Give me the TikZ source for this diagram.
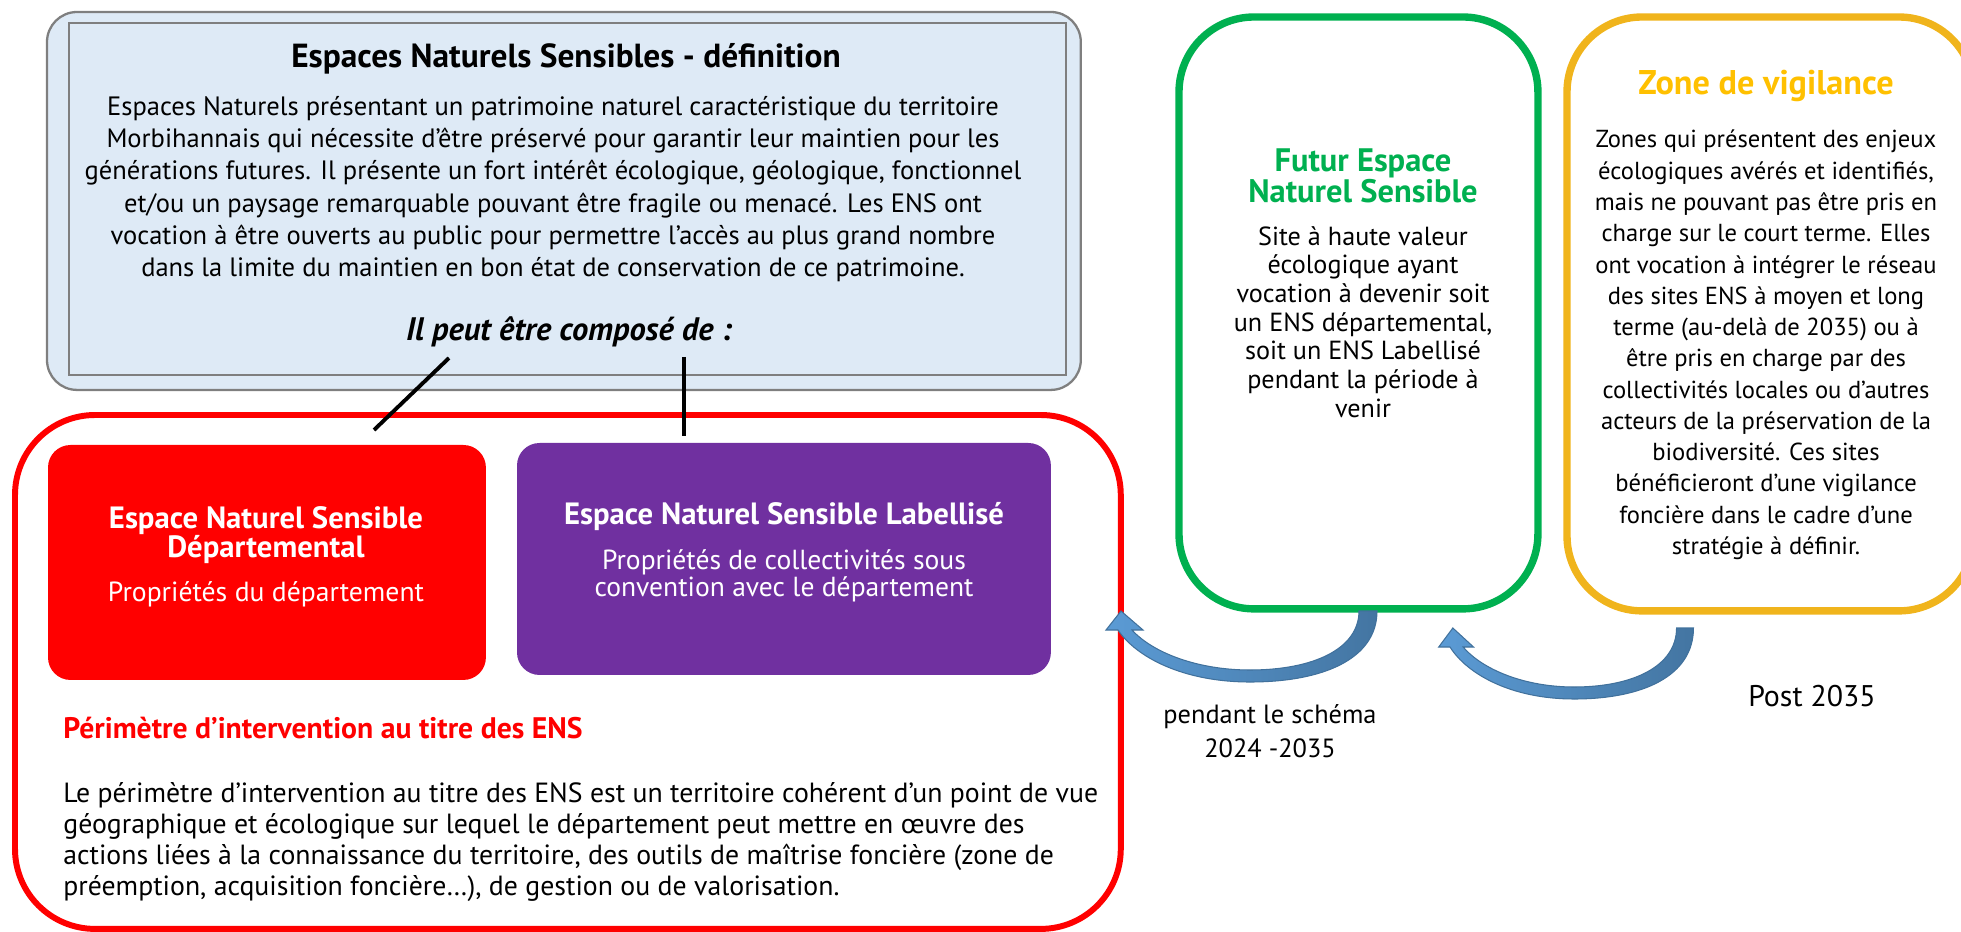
\documentclass[tikz,border=0pt]{standalone}
\usepackage{fontspec}
\setmainfont{PT Sans}
\usetikzlibrary{positioning}

\definecolor{bleuclair}{HTML}{DEEAF6}
\definecolor{grisbord}{HTML}{7F7F7F}
\definecolor{rouge}{HTML}{FF0000}
\definecolor{violet}{HTML}{7030A0}
\definecolor{vert}{HTML}{00B050}
\definecolor{jaune}{HTML}{F0B41C}
\definecolor{jaunetitre}{HTML}{FFC000}
\definecolor{bleuclf}{HTML}{5B9BD5}
\definecolor{bleufonce}{HTML}{41719C}

\tikzset{
  boite/.style={anchor=north west, inner sep=0pt, outer sep=0pt},
  txt/.style={inner sep=0pt, align=center, font=\fontsize{#1}{18.4}\selectfont},
  flechebleue/.pic={
    \draw[bleufonce, line width=0.6pt, left color=bleuclf, right color=bleufonce!90!bleuclf]
      (9,0) .. controls (9,48) and (-45,71) .. (-118,71)
      .. controls (-185,71) and (-232,46) .. (-250,19)
      -- (-262,19) -- (-247,0) -- (-225,19) -- (-236,19)
      .. controls (-215,42) and (-170,59) .. (-118,59)
      .. controls (-55,59) and (-9,38) .. (-9,0) -- cycle;
  }
}

\begin{document}
\begin{tikzpicture}[x=0.02cm, y=-0.02cm]
  \useasboundingbox (0,0) rectangle (1961,932);
  \clip (0,0) rectangle (1961,932);

  % Boites
  \node[boite, draw=grisbord, fill=bleuclair, line width=1.3pt, rounded corners=0.6cm,
        minimum width=20.68cm, minimum height=7.56cm] (defbox) at (47,12) {};
  \node[boite, draw=grisbord, fill=bleuclair, line width=0.9pt,
        minimum width=19.94cm, minimum height=7.04cm] (definner) at (69,23) {};
  \node[boite, draw=rouge, line width=3.4pt, rounded corners=1.6cm,
        minimum width=22.12cm, minimum height=10.28cm] (perimetre) at (15,415) {};
  \node[boite, fill=rouge, rounded corners=0.45cm,
        minimum width=8.76cm, minimum height=4.7cm] (ensdep) at (48,445) {};
  \node[boite, fill=violet, rounded corners=0.45cm,
        minimum width=10.68cm, minimum height=4.64cm] (enslab) at (517,443) {};
  \node[boite, draw=vert, line width=4.2pt, rounded corners=1.5cm,
        minimum width=7.18cm, minimum height=11.84cm] (futur) at (1179,17) {};
  \node[boite, draw=jaune, line width=4.2pt, rounded corners=1.5cm,
        minimum width=8.14cm, minimum height=11.88cm] (zone) at (1567,17) {};

  % Textes
  \node[txt=19, font=\bfseries\fontsize{19}{20}\selectfont] (deftitre) at (566,59)
    {Espaces Naturels Sensibles - définition};
  \node[txt=15.1] (deftexte) at (553,189)
    {Espaces Naturels présentant un patrimoine naturel caractéristique du territoire\\
     Morbihannais qui nécessite d’être préservé pour garantir leur maintien pour les\\
     générations futures. Il présente un fort intérêt écologique, géologique, fonctionnel\\
     et/ou un paysage remarquable pouvant être fragile ou menacé. Les ENS ont\\
     vocation à être ouverts au public pour permettre l’accès au plus grand nombre\\
     dans la limite du maintien en bon état de conservation de ce patrimoine.};
  \node[txt=18, font=\bfseries\itshape\fontsize{18.5}{20}\selectfont] (compose) at (569,332)
    {Il peut être composé de :};

  \node[txt=17.5, text=white, font=\bfseries\fontsize{17.5}{16.9}\selectfont] (ensdeptitre) at (266,535)
    {Espace Naturel Sensible\\ Départemental};
  \node[txt=15.75, text=white] (ensdeptexte) at (266,594) {Propriétés du département};
  \node[txt=17.5, text=white, font=\bfseries\fontsize{17.5}{18}\selectfont] (enslabtitre) at (784,517)
    {Espace Naturel Sensible Labellisé};
  \node[txt=15.7, text=white, font=\fontsize{15.7}{15.3}\selectfont] (enslabtexte) at (784,576)
    {Propriétés de collectivités sous\\ convention avec le département};

  \node[txt=16.9, text=rouge, font=\bfseries\fontsize{16.9}{18}\selectfont, anchor=west] (perimtitre) at (63,728)
    {Périmètre d’intervention au titre des ENS};
  \node[txt=15.8, align=left, font=\fontsize{15.8}{17.7}\selectfont, anchor=west] (perimtexte) at (63,842)
    {Le périmètre d’intervention au titre des ENS est un territoire cohérent d’un point de vue\\
     géographique et écologique sur lequel le département peut mettre en œuvre des\\
     actions liées à la connaissance du territoire, des outils de maîtrise foncière (zone de\\
     préemption, acquisition foncière…), de gestion ou de valorisation.};

  \node[txt=18.5, text=vert, font=\bfseries\fontsize{18.5}{17.6}\selectfont] (futurtitre) at (1363,176)
    {Futur Espace\\ Naturel Sensible};
  \node[txt=14.9, font=\fontsize{14.9}{16.3}\selectfont] (futurtexte) at (1363,322)
    {Site à haute valeur\\ écologique ayant\\ vocation à devenir soit\\ un ENS départemental,\\
     soit un ENS Labellisé\\ pendant la période à\\ venir};

  \node[txt=19.5, text=jaunetitre, font=\bfseries\fontsize{19.5}{20}\selectfont] (zonetitre) at (1766,86)
    {Zone de vigilance};
  \node[txt=14, font=\fontsize{14}{17.8}\selectfont] (zonetexte) at (1766,345)
    {Zones qui présentent des enjeux\\ écologiques avérés et identifiés,\\ mais ne pouvant pas être pris en\\
     charge sur le court terme. Elles\\ ont vocation à intégrer le réseau\\ des sites ENS à moyen et long\\
     terme (au-delà de 2035) ou à\\ être pris en charge par des\\ collectivités locales ou d’autres\\
     acteurs de la préservation de la\\ biodiversité. Ces sites\\ bénéficieront d’une vigilance\\
     foncière dans le cadre d’une\\ stratégie à définir.};

  \node[txt=15, font=\fontsize{15}{19.3}\selectfont] (schema) at (1270,731)
    {pendant le schéma\\ 2024 -2035};
  \node[txt=17] (post) at (1812,696) {Post 2035};

  % Traits
  \coordinate (trait1a) at (449,358);
  \coordinate (trait1b) at (374,430);
  \coordinate (trait2a) at (684,357);
  \coordinate (trait2b) at (684,436);
  \draw[line width=2.2pt] (trait1a) -- (trait1b);
  \draw[line width=2.2pt] (trait2a) -- (trait2b);

  % Fleches
  \pic at (1368,611) {flechebleue};
  \pic[xscale=0.94] at (1685,628) {flechebleue};
\end{tikzpicture}
\end{document}
